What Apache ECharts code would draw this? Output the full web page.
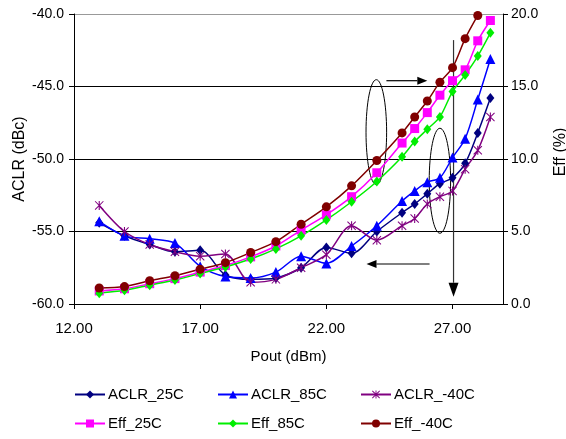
<!DOCTYPE html>
<html>
<head>
<meta charset="utf-8">
<script src="https://cdn.jsdelivr.net/npm/echarts@6/dist/echarts.min.js"></script>
<style>
    html, body { margin: 0; padding: 0; background: #fff; }
    #chart { width: 566px; height: 439px; }
</style>
</head>
<body>
<div id="chart"></div>
<script>
    // Pout (dBm) sample points
    var pout = [13, 14, 15, 16, 17, 18, 19, 20, 21, 22, 23, 24, 25, 25.5, 26, 26.5, 27, 27.5, 28, 28.5];

    // ACLR (dBc)
    var aclr25 = [-54.4, -55.3, -55.9, -56.4, -56.3, -58.0, -58.3, -58.2, -57.5, -56.1, -56.5, -55.0, -53.7, -53.1, -52.4, -51.7, -51.3, -50.3, -48.2, -45.8];
    var aclr85 = [-54.3, -55.3, -55.5, -55.8, -57.4, -58.1, -58.2, -57.8, -56.7, -57.2, -56.0, -54.6, -52.9, -52.2, -51.6, -51.3, -49.9, -48.6, -45.9, -43.1];
    var aclrM40 = [-53.2, -55.0, -55.9, -56.4, -56.7, -56.55, -58.5, -58.3, -57.5, -56.6, -54.6, -55.6, -54.6, -54.1, -53.1, -52.6, -52.2, -50.7, -49.4, -47.1];

    // Eff (%)
    var eff25 = [0.9, 1.05, 1.4, 1.75, 2.2, 2.65, 3.25, 4.0, 5.1, 6.15, 7.4, 9.05, 11.1, 12.1, 13.2, 14.4, 15.4, 16.15, 18.15, 19.55];
    var eff85 = [0.75, 0.95, 1.3, 1.65, 2.1, 2.55, 3.1, 3.8, 4.7, 5.8, 7.05, 8.45, 10.15, 11.2, 12.05, 12.9, 14.65, 15.8, 17.1, 18.7];
    var effM40 = [1.1, 1.2, 1.6, 1.95, 2.4, 2.85, 3.55, 4.3, 5.5, 6.7, 8.15, 9.9, 11.8, 12.9, 14.0, 15.3, 16.3, 18.3, 19.9, null];

    var FONT = 'Liberation Sans';
    var starPath = 'path://M4.4,0 L5.6,0 L5.6,10 L4.4,10 Z M0,0.8 L0.8,0 L10,9.2 L9.2,10 Z M9.2,0 L10,0.8 L0.8,10 L0,9.2 Z';

    function pairs(ys) {
        var out = [];
        for (var i = 0; i < pout.length; i++) {
            if (ys[i] != null) out.push([pout[i], ys[i]]);
        }
        return out;
    }

    function line(name, ys, yIdx, color, symbol, size) {
        return {
            name: name,
            type: 'line',
            yAxisIndex: yIdx,
            data: pairs(ys),
            smooth: 0.3,
            symbol: symbol,
            symbolSize: size,
            lineStyle: { color: color, width: 1.5 },
            itemStyle: { color: color },
            emphasis: { disabled: true }
        };
    }

    // one legend per item so the columns sit where they do in the original
    var legendNames = ['ACLR_25C', 'ACLR_85C', 'ACLR_-40C', 'Eff_25C', 'Eff_85C', 'Eff_-40C'];
    var legends = legendNames.map(function (n, i) {
        return {
            left: 74 + (i % 3) * 143,
            top: i < 3 ? 387 : 416,
            padding: 0,
            itemWidth: 30, itemHeight: 10,
            textStyle: { fontFamily: FONT, fontSize: 15, color: '#000', padding: [0, 0, 0, -2] },
            data: [n]
        };
    });

    var myChart = echarts.init(document.getElementById('chart'));
    myChart.setOption({
        animation: false,
        grid: { left: 74, right: 63, top: 14, bottom: 135, containLabel: false, outerBoundsMode: 'none' },
        legend: legends,
        xAxis: {
            type: 'value',
            min: 12, max: 29, interval: 5,
            name: 'Pout (dBm)',
            nameLocation: 'middle',
            nameGap: 45,
            nameTextStyle: { fontFamily: FONT, fontSize: 15, color: '#000' },
            axisLine: { lineStyle: { color: '#000', width: 1 } },
            axisTick: { show: true, length: 5, lineStyle: { color: '#000' } },
            axisLabel: {
                fontFamily: FONT, fontSize: 15, color: '#000', margin: 17,
                showMaxLabel: false,
                formatter: function (v) { return v.toFixed(2); }
            },
            splitLine: { show: false }
        },
        yAxis: [
            {
                type: 'value',
                min: -60, max: -40, interval: 5,
                name: 'ACLR (dBc)',
                nameLocation: 'middle',
                nameRotate: 90,
                nameGap: 46,
                nameMoveOverlap: false,
                nameTextStyle: { fontFamily: FONT, fontSize: 16, color: '#000' },
                axisLine: { show: true, lineStyle: { color: '#000', width: 1 } },
                axisTick: { show: true, length: 5, lineStyle: { color: '#000' } },
                axisLabel: {
                    fontFamily: FONT, fontSize: 14, color: '#000', margin: 10,
                    formatter: function (v) { return v.toFixed(1); }
                },
                splitLine: { show: true, lineStyle: { color: ['#000', '#000', '#000', '#000', '#999'], width: 1 } }
            },
            {
                type: 'value',
                min: 0, max: 20, interval: 5,
                name: 'Eff (%)',
                nameLocation: 'middle',
                nameRotate: 90,
                nameGap: 50,
                nameMoveOverlap: false,
                nameTextStyle: { fontFamily: FONT, fontSize: 16, color: '#000', padding: [0, 0, 0, 14] },
                axisLine: { show: true, lineStyle: { color: '#000', width: 1 } },
                axisTick: { show: true, length: 5, lineStyle: { color: '#000' } },
                axisLabel: {
                    fontFamily: FONT, fontSize: 14, color: '#000', margin: 8,
                    formatter: function (v) { return v.toFixed(1); }
                },
                splitLine: { show: false }
            }
        ],
        series: [
            line('ACLR_25C', aclr25, 0, '#000080', 'diamond', [8, 10]),
            line('ACLR_85C', aclr85, 0, '#0000ff', 'triangle', 10),
            line('ACLR_-40C', aclrM40, 0, '#800080', starPath, 9),
            line('Eff_25C', eff25, 1, '#ff00ff', 'rect', 9),
            line('Eff_85C', eff85, 1, '#00ee00', 'diamond', [8, 10]),
            line('Eff_-40C', effM40, 1, '#800000', 'circle', 9)
        ]
    });

    // annotations (ellipses + arrows), placed in ACLR/Pout coordinates
    var ellipses = [
        { at: [23.98, -48.15], rx: 10.3, ry: 52.5 },
        { at: [26.5, -51.5], rx: 10.7, ry: 52.5 }
    ];
    var arrows = [
        { from: [24.38, -44.6], to: [26.0, -44.6] },
        { from: [26.09, -57.24], to: [23.59, -57.24] },
        { from: [27.04, -41.8], to: [27.04, -59.5] }
    ];

    function px(p) {
        return myChart.convertToPixel({ xAxisIndex: 0, yAxisIndex: 0 }, p);
    }

    var gfx = [];
    ellipses.forEach(function (e) {
        var c = px(e.at);
        gfx.push({
            type: 'ellipse', silent: true,
            shape: { cx: c[0], cy: c[1], rx: e.rx, ry: e.ry },
            style: { fill: null, stroke: '#000', lineWidth: 1 }
        });
    });
    arrows.forEach(function (a, i) {
        var p1 = px(a.from), p2 = px(a.to);
        var dx = p2[0] - p1[0], dy = p2[1] - p1[1];
        var len = Math.sqrt(dx * dx + dy * dy);
        var ux = dx / len, uy = dy / len;
        var hl = i === 2 ? 14 : 10, hw = i === 2 ? 5 : 4;
        var bx = p2[0] - ux * hl, by = p2[1] - uy * hl;
        gfx.push({
            type: 'line', silent: true,
            shape: { x1: p1[0], y1: p1[1], x2: bx, y2: by },
            style: { stroke: i === 2 ? '#333' : '#000', lineWidth: 1.2 }
        });
        gfx.push({
            type: 'polygon', silent: true,
            shape: { points: [[p2[0], p2[1]], [bx - uy * hw, by + ux * hw], [bx + uy * hw, by - ux * hw]] },
            style: { fill: '#000' }
        });
    });
    myChart.setOption({ graphic: gfx });
</script>
</body>
</html>
